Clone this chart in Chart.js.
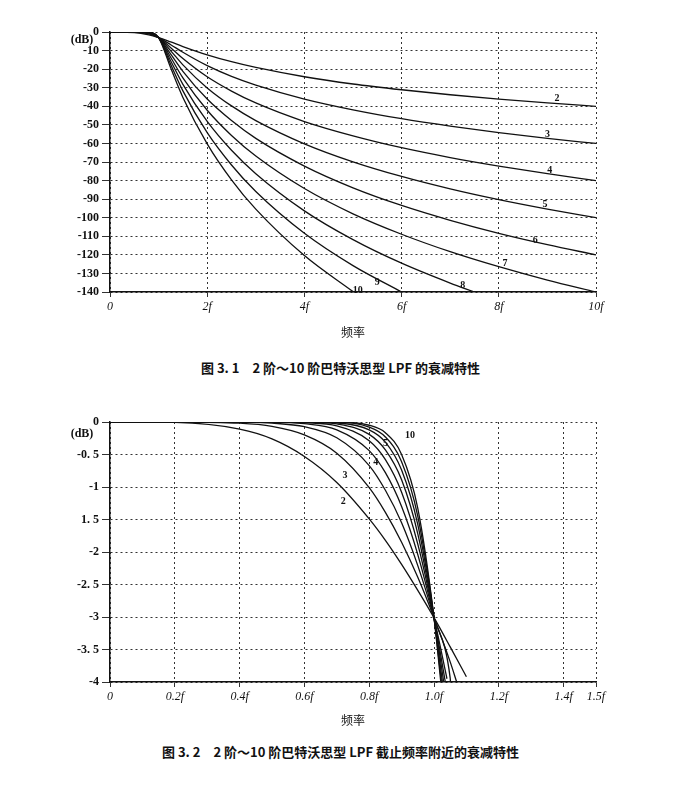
<!DOCTYPE html>
<html><head><meta charset="utf-8">
<script src="https://cdn.jsdelivr.net/npm/chart.js@4.4.0/dist/chart.umd.min.js"></script>
<style>
body{margin:0;background:#fff;width:681px;height:789px;position:relative;overflow:hidden}
.c{position:absolute;left:0;width:681px;height:340px}
.cap{position:absolute;left:0;width:681px;text-align:center;font-family:"Noto Sans CJK SC";font-size:13px;font-weight:bold;color:#111}
</style></head><body>
<div class="c" style="top:0"><canvas id="c1"></canvas></div>
<div class="cap" style="top:358px">图 3. 1　2 阶～10 阶巴特沃思型 LPF 的衰减特性</div>
<div class="c" style="top:400px"><canvas id="c2"></canvas></div>
<div class="cap" style="top:742px">图 3. 2　2 阶～10 阶巴特沃思型 LPF 截止频率附近的衰减特性</div>
<script>
const orders=[2,3,4,5,6,7,8,9,10];
// Chart 1 (wide range)
const x1=[0,0.5,0.8,1,1.25,1.5,2,2.5,3,4,5,6,7,8,9,10];
const y1={
2:[0,-0.26,-1.49,-3.01,-5.37,-7.83,-12.30,-16.0,-19.1,-24.1,-28.0,-31.1,-33.8,-36.1,-38.2,-40.0],
3:[0,-0.07,-1.01,-3.01,-6.83,-10.93,-18.13,-23.9,-28.6,-36.1,-41.9,-46.7,-50.7,-54.2,-57.3,-60.0],
4:[0,0,-0.67,-3.01,-8.43,-14.25,-24.10,-31.8,-38.2,-48.2,-55.9,-62.3,-67.6,-72.2,-76.3,-80],
5:[0,0,-0.44,-3.01,-10.13,-17.68,-30.11,-39.8,-47.7,-60.2,-69.9,-77.8,-84.5,-90.3,-95.4,-100],
6:[0,0,-0.29,-3.01,-11.92,-21.16,-36.12,-47.7,-57.3,-72.2,-83.9,-93.4,-101.4,-108.4,-114.5,-120],
7:[0,0,-0.19,-3.01,-13.75,-24.67,-42.14,-55.7,-66.8,-84.3,-97.9,-108.9,-118.3,-126.4,-133.6,-140],
8:[0,0,-0.12,-3.01,-15.62,-28.18,-48.16,-63.7,-76.3,-96.3,-111.8,-124.5,-135.2,null,null,null],
9:[0,0,-0.08,-3.01,-17.52,-31.70,-54.19,-71.6,-85.9,-108.4,-125.8,-140,null,null,null,null],
10:[0,0,-0.05,-3.01,-19.43,-35.22,-60.21,-79.6,-95.4,-120.4,-139.8,null,null,null,null,null]};
const tail1={8:[7.5,-140]};
const lab1=[[2,9.2,-35.5],[3,9.0,-55],[4,9.05,-74.4],[5,8.95,-93],[6,8.75,-112],[7,8.13,-124.4],[8,7.26,-136.2],[9,5.5,-134.6],[10,5.1,-139]];
const xt1=[0,2,4,6,8,10], xl1=['0','2f','4f','6f','8f','10f'];
const yt1=[0,-10,-20,-30,-40,-50,-60,-70,-80,-90,-100,-110,-120,-130,-140];
// Chart 2 (near cutoff)
const x2=[0,0.2,0.4,0.5,0.6,0.7,0.8,0.85,0.9,0.95,1.0,1.05];
const y2={
2:[0,-0.007,-0.11,-0.26,-0.53,-0.93,-1.49,-1.82,-2.19,-2.59,-3.01,-3.46],
3:[0,0,-0.018,-0.067,-0.198,-0.48,-1.01,-1.39,-1.85,-2.39,-3.01,-3.69],
4:[0,0,0,-0.017,-0.072,-0.243,-0.67,-1.05,-1.55,-2.21,-3.01,-3.94],
5:[0,0,0,0,-0.026,-0.12,-0.44,-0.78,-1.30,-2.04,-3.01,null],
6:[0,0,0,0,-0.01,-0.06,-0.29,-0.58,-1.08,-1.88,-3.01,null],
7:[0,0,0,0,0,-0.03,-0.19,-0.43,-0.89,-1.72,-3.01,null],
8:[0,0,0,0,0,-0.014,-0.12,-0.31,-0.74,-1.58,-3.01,null],
9:[0,0,0,0,0,0,-0.078,-0.23,-0.61,-1.45,-3.01,null],
10:[0,0,0,0,0,0,-0.05,-0.165,-0.50,-1.33,-3.01,null]};
const tail2={2:[1.1,-3.92],3:[1.07,-4],4:[1.051,-4],5:[1.04,-3.95],6:[1.035,-4],7:[1.03,-4],8:[1.026,-4],9:[1.023,-4],10:[1.021,-4]};
const lab2=[[10,0.926,-0.2],[5,0.85,-0.33],[4,0.82,-0.62],[3,0.725,-0.82],[2,0.72,-1.22]];
const xt2=[0,0.2,0.4,0.6,0.8,1.0,1.2,1.4,1.5], xl2=['0','0.2f','0.4f','0.6f','0.8f','1.0f','1.2f','1.4f','1.5f'];
const yt2=[0,-0.5,-1,-1.5,-2,-2.5,-3,-3.5,-4], yl2=['0','-0. 5','-1','1. 5','-2','-2. 5','-3','-3. 5','-4'];

const F='"Liberation Serif"';
function ds(xs,ys,tail){
  return orders.map(n=>{
    const d=[];xs.forEach((x,i)=>{if(ys[n][i]!==null)d.push({x:x,y:ys[n][i]});});
    if(tail[n])d.push({x:tail[n][0],y:tail[n][1]});
    return {data:d,borderColor:'#111',borderWidth:1.3,pointRadius:0,cubicInterpolationMode:'monotone',fill:false};
  });
}
function labPlugin(labs,extra){return {id:'lab',afterDatasetsDraw(c){
  const ctx=c.ctx,xs=c.scales.x,ys=c.scales.y;ctx.save();ctx.fillStyle='#111';
  ctx.font='bold 10px '+F;ctx.textAlign='center';ctx.textBaseline='middle';
  labs.forEach(l=>ctx.fillText(String(l[0]),xs.getPixelForValue(l[1]),ys.getPixelForValue(l[2])));
  ctx.font='bold 12px '+F;ctx.fillText('(dB)',xs.left-28,extra);
  ctx.restore();}};}
function mk(id,xs,ys,tail,labs,xt,xl,xmax,yt,yl,ymin,pad,dbY){
  new Chart(document.getElementById(id),{type:'line',
   data:{datasets:ds(xs,ys,tail)},
   options:{responsive:false,animation:false,maintainAspectRatio:false,
    layout:{padding:{left:0,right:85,top:pad.top,bottom:pad.bot}},
    plugins:{legend:{display:false},tooltip:{enabled:false}},
    scales:{
     x:{type:'linear',min:0,max:xmax,afterBuildTicks(a){a.ticks=xt.map(v=>({value:v}));},
        afterFit(a){a.height=pad.xh;},
        ticks:{autoSkip:false,maxRotation:0,color:'#111',font:{family:F,size:12,style:'italic'},callback:(v,i)=>xl[i]},
        grid:{color:'#333',lineWidth:1,tickLength:5,drawTicks:true},border:{color:'#111',width:1.5,dash:[2,3]},
        title:{display:true,text:'频率',color:'#111',font:{family:'"Noto Sans CJK SC"',size:12},padding:{top:0,bottom:0}}},
     y:{min:ymin,max:0,afterBuildTicks(a){a.ticks=yt.map(v=>({value:v}));},
        afterFit(a){a.width=110;},
        ticks:{autoSkip:false,color:'#111',font:{family:F,size:12,weight:'bold'},callback:(v,i)=>yl?yl[i]:String(yt[i])},
        grid:{color:'#333',lineWidth:1,tickLength:8},border:{color:'#111',width:1.5,dash:[2,3]}}
    }},
   plugins:[labPlugin(labs,dbY)]});
}
['c1','c2'].forEach(id=>{const e=document.getElementById(id);e.width=681;e.height=340;});
mk('c1',x1,y1,tail1,lab1,xt1,xl1,10,yt1,null,-140,{top:32,xh:48,bot:0},40);
mk('c2',x2,y2,tail2,lab2,xt2,xl2,1.5,yt2,yl2,-4,{top:22,xh:46,bot:12},34);
</script></body></html>
